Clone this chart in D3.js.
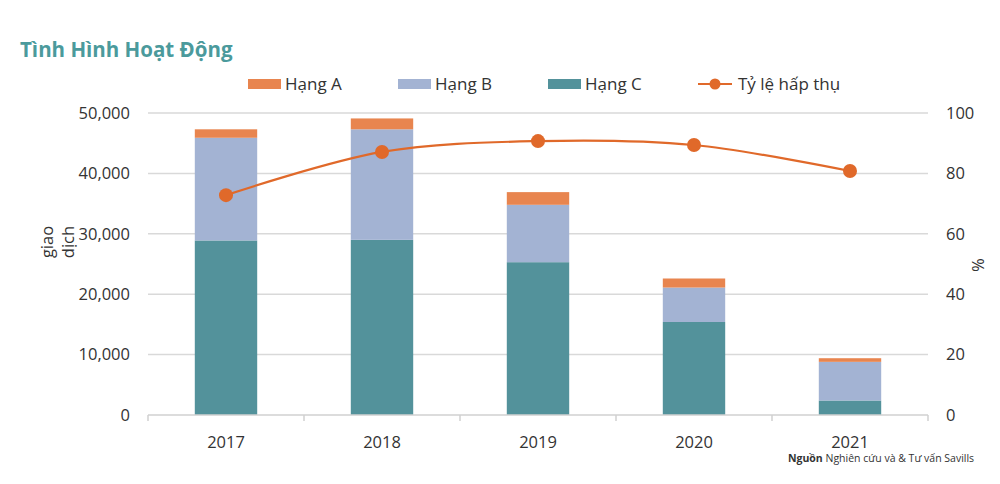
<!DOCTYPE html>
<html><head><meta charset="utf-8">
<script src="https://cdn.jsdelivr.net/npm/d3@7"></script>
<style>
body{margin:0;background:#fff;}
svg{font-family:"Open Sans","Noto Sans",sans-serif;}
</style></head><body>
<svg id="c" width="1000" height="484"></svg>
<script>
const years = ["2017","2018","2019","2020","2021"];
const hangC = [28900, 29000, 25300, 15400, 2400];
const hangB = [17000, 18300, 9500, 5700, 6400];
const hangA = [1400, 1800, 2100, 1500, 600];
const absorption = [72.8, 87.1, 90.7, 89.4, 80.8];
const leftTicks = [0,10000,20000,30000,40000,50000];
const rightTicks = [0,20,40,60,80,100];
const seriesNames = ["Hạng A","Hạng B","Hạng C"];
const colors = {A:"#e8854f", B:"#a3b3d3", C:"#53929b", line:"#e0692a"};

const svg = d3.select("#c");
const m = {l:148, r:928, t:113, b:415};
const x = d3.scaleBand().domain(years).range([m.l,m.r]).paddingInner(0.6).paddingOuter(0.3);
const y = d3.scaleLinear().domain([0,50000]).range([m.b,m.t]);
const y2 = d3.scaleLinear().domain([0,100]).range([m.b,m.t]);

// title
svg.append("text").attr("x",20).attr("y",57).attr("fill","#4b9a9c")
  .attr("font-size",20.5).attr("font-weight","bold").text("Tình Hình Hoạt Động");

// grid
svg.append("g").selectAll("line").data(leftTicks.filter(d=>d>0)).join("line")
  .attr("x1",m.l).attr("x2",m.r).attr("y1",d=>y(d)).attr("y2",d=>y(d))
  .attr("stroke","#d9d9d9").attr("stroke-width",1.5);

const fs = 16.5;
// left axis labels
const fmt = d3.format(",");
svg.append("g").selectAll("text").data(leftTicks).join("text")
  .attr("x",130).attr("y",d=>y(d)).attr("dy","0.35em").attr("text-anchor","end")
  .attr("font-size",fs).attr("fill","#333").text(d=>fmt(d));
// right axis labels
svg.append("g").selectAll("text").data(rightTicks).join("text")
  .attr("x",946).attr("y",d=>y2(d)).attr("dy","0.35em").attr("text-anchor","start")
  .attr("font-size",fs).attr("fill","#333").text(d=>d);

// stacked bars
const rows = years.map((yr,i)=>({year:yr, C:hangC[i], B:hangB[i], A:hangA[i]}));
const stack = d3.stack().keys(["C","B","A"])(rows);
svg.append("g").selectAll("g").data(stack).join("g")
  .attr("fill",d=>colors[d.key])
  .selectAll("rect").data(d=>d).join("rect")
  .attr("x",d=>x(d.data.year)).attr("width",x.bandwidth())
  .attr("y",d=>y(d[1])).attr("height",d=>y(d[0])-y(d[1]));

// x axis
const xb = d3.scaleLinear().domain([0,5]).range([m.l,m.r]);
svg.append("line").attr("x1",m.l).attr("x2",m.r).attr("y1",m.b).attr("y2",m.b)
  .attr("stroke","#d0d0d0").attr("stroke-width",1.5);
svg.append("g").selectAll("line").data(d3.range(6)).join("line")
  .attr("x1",d=>xb(d)).attr("x2",d=>xb(d)).attr("y1",m.b).attr("y2",m.b+6)
  .attr("stroke","#d0d0d0").attr("stroke-width",1.5);
svg.append("g").selectAll("text").data(years).join("text")
  .attr("x",d=>x(d)+x.bandwidth()/2).attr("y",448).attr("text-anchor","middle")
  .attr("font-size",fs).attr("fill","#333").text(d=>d);

// line
const cx = i=>x(years[i])+x.bandwidth()/2;
const line = d3.line().x((d,i)=>cx(i)).y(d=>y2(d)).curve(d3.curveCatmullRom.alpha(0.5));
svg.append("path").attr("d",line(absorption)).attr("fill","none")
  .attr("stroke",colors.line).attr("stroke-width",2.2);
svg.append("g").selectAll("circle").data(absorption).join("circle")
  .attr("cx",(d,i)=>cx(i)).attr("cy",d=>y2(d)).attr("r",7).attr("fill",colors.line);

// axis titles
const gt = svg.append("text").attr("transform","translate(57,242) rotate(-90)")
  .attr("text-anchor","middle").attr("font-size",fs).attr("fill","#333");
gt.append("tspan").attr("x",0).attr("dy","-0.25em").text("giao");
gt.append("tspan").attr("x",0).attr("dy","1.25em").text("dịch");
svg.append("text").attr("transform","translate(972,265) rotate(90)")
  .attr("text-anchor","middle").attr("font-size",fs).attr("fill","#333").text("%");

// legend
const leg = svg.append("g");
const legItems = [
  {name:"Hạng A", key:"A", x:248},
  {name:"Hạng B", key:"B", x:398},
  {name:"Hạng C", key:"C", x:548}
];
legItems.forEach(d=>{
  leg.append("rect").attr("x",d.x).attr("y",79).attr("width",33).attr("height",10).attr("fill",colors[d.key]);
  leg.append("text").attr("x",d.x+37).attr("y",84).attr("dy","0.35em").attr("font-size",17).attr("fill","#333").text(d.name);
});
leg.append("line").attr("x1",698).attr("x2",732).attr("y1",84).attr("y2",84).attr("stroke",colors.line).attr("stroke-width",2.2);
leg.append("circle").attr("cx",715).attr("cy",84).attr("r",5.5).attr("fill",colors.line);
leg.append("text").attr("x",738).attr("y",84).attr("dy","0.35em").attr("font-size",17).attr("fill","#333").text("Tỷ lệ hấp thụ");

// source
const src = svg.append("text").attr("x",788).attr("y",462).attr("font-size",10.5).attr("fill","#333");
src.append("tspan").attr("font-weight","bold").text("Nguồn");
src.append("tspan").text(" Nghiên cứu và & Tư vấn Savills");
</script>
</body></html>
